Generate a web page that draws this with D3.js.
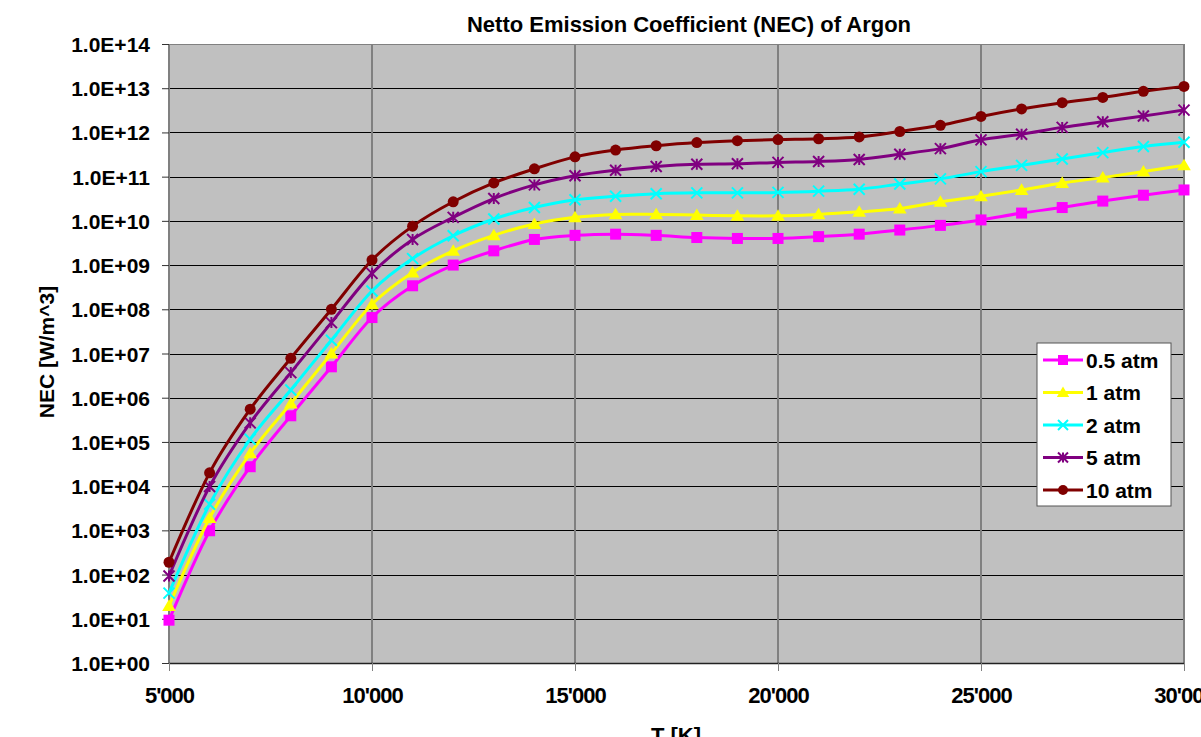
<!DOCTYPE html>
<html><head><meta charset="utf-8">
<script src="https://cdn.jsdelivr.net/npm/d3@7"></script>
<style>
html,body{margin:0;padding:0;background:#fff;overflow:hidden}
text{font-family:"Liberation Sans",Arial,sans-serif;font-weight:bold;fill:#000}
</style></head>
<body><svg id="c" width="1201" height="737"></svg>
<script>
const temps = [5000,6000,7000,8000,9000,10000,11000,12000,13000,14000,15000,16000,17000,18000,19000,20000,21000,22000,23000,24000,25000,26000,27000,28000,29000,30000];
const atm05 = [9.3e0,9.8e2,2.75e4,3.9e5,5.0e6,6.5e7,3.4e8,1.0e9,2.1e9,3.8e9,4.7e9,5.0e9,4.7e9,4.2e9,4.0e9,4.0e9,4.4e9,5.0e9,6.2e9,7.9e9,1.05e10,1.5e10,2.0e10,2.8e10,3.8e10,5.0e10];
const atm1 = [1.95e1,1.9e3,5.5e4,7.4e5,1.0e7,1.3e8,6.8e8,2.1e9,4.7e9,8.5e9,1.2e10,1.4e10,1.4e10,1.35e10,1.3e10,1.3e10,1.4e10,1.6e10,1.9e10,2.7e10,3.6e10,5.0e10,7.2e10,9.5e10,1.3e11,1.8e11];
const atm2 = [3.8e1,3.9e3,1.15e5,1.5e6,2.0e7,2.6e8,1.4e9,4.6e9,1.1e10,2.0e10,3.0e10,3.6e10,4.1e10,4.3e10,4.3e10,4.4e10,4.7e10,5.2e10,6.8e10,8.9e10,1.3e11,1.8e11,2.5e11,3.5e11,4.8e11,6.0e11];
const atm5 = [9.3e1,9.8e3,2.7e5,3.7e6,5.0e7,6.5e8,3.8e9,1.2e10,3.2e10,6.5e10,1.05e11,1.4e11,1.7e11,1.9e11,1.95e11,2.1e11,2.2e11,2.45e11,3.2e11,4.3e11,6.8e11,9.1e11,1.3e12,1.75e12,2.35e12,3.2e12];
const atm10 = [1.9e2,2.0e4,5.5e5,7.8e6,1.0e8,1.3e9,7.6e9,2.7e10,7.2e10,1.5e11,2.8e11,4.0e11,5.0e11,5.9e11,6.5e11,6.9e11,7.2e11,7.9e11,1.05e12,1.45e12,2.3e12,3.4e12,4.7e12,6.2e12,8.5e12,1.1e13];
const seriesNames = ["0.5 atm","1 atm","2 atm","5 atm","10 atm"];
const seriesColors = ["#ff00ff","#ffff00","#00ffff","#800080","#800000"];
const seriesMarkers = ["square","triangle","x","star","circle"];
const xTicks = [5000,10000,15000,20000,25000,30000];
const yTicks = [1e0,1e1,1e2,1e3,1e4,1e5,1e6,1e7,1e8,1e9,1e10,1e11,1e12,1e13,1e14];
const titleText = "Netto Emission Coefficient (NEC) of Argon";
const xTitle = "T [K]";
const yTitle = "NEC [W/m^3]";

const seriesValues = [atm05, atm1, atm2, atm5, atm10];
const m = {l:169, t:44, r:1184, b:663};
const svg = d3.select("#c");
const x = d3.scaleLinear().domain([5000,30000]).range([m.l, m.r]);
const y = d3.scaleLog().domain([1e0,1e14]).range([m.b, m.t]);

svg.append("rect").attr("x",m.l).attr("y",m.t).attr("width",m.r-m.l).attr("height",m.b-m.t).attr("fill","#c0c0c0");

// horizontal gridlines
svg.append("g").selectAll("line").data(yTicks).join("line")
  .attr("x1",m.l).attr("x2",m.r).attr("y1",d=>Math.round(y(d))+0.5).attr("y2",d=>Math.round(y(d))+0.5)
  .attr("stroke",(d,i)=> i===yTicks.length-1 ? "#808080" : "#000").attr("stroke-width",1);
// vertical gridlines
svg.append("g").selectAll("line").data(xTicks).join("line")
  .attr("x1",d=>Math.round(x(d))).attr("x2",d=>Math.round(x(d))).attr("y1",m.t).attr("y2",m.b)
  .attr("stroke","#808080").attr("stroke-width",2);
// bottom axis line
svg.append("line").attr("x1",m.l).attr("x2",m.r).attr("y1",m.b+0.5).attr("y2",m.b+0.5).attr("stroke","#222").attr("stroke-width",1.5);

// y axis
const fmt = d => "1.0E+" + String(Math.round(Math.log10(d))).padStart(2,"0");
const ya = svg.append("g").attr("transform",`translate(${m.l},0)`)
  .call(d3.axisLeft(y).tickValues(yTicks).tickFormat(fmt).tickSize(7).tickPadding(12));
ya.select(".domain").remove();
ya.selectAll(".tick line").attr("stroke","#333");
ya.selectAll("text").style("font-size","21px").attr("dy","0.36em");

// x axis
const xa = svg.append("g").attr("transform",`translate(0,${m.b})`)
  .call(d3.axisBottom(x).tickValues(xTicks).tickFormat(d=>String(d/1000)+"'000").tickSize(8).tickPadding(16));
xa.select(".domain").remove();
xa.selectAll(".tick line").attr("stroke","#808080");
xa.selectAll("text").style("font-size","22px").style("letter-spacing","-1px");

// titles
svg.append("text").attr("x",689).attr("y",32).attr("text-anchor","middle").style("font-size","22px").text(titleText);
svg.append("text").attr("x",676).attr("y",743).attr("text-anchor","middle").style("font-size","22px").text(xTitle);
svg.append("text").attr("transform","translate(54,352) rotate(-90)").attr("text-anchor","middle").style("font-size","21px").text(yTitle);

// markers
function drawMarker(g, type, color, size){
  const s = size;
  if(type==="square") g.append("rect").attr("x",-s/2).attr("y",-s/2).attr("width",s).attr("height",s).attr("fill",color);
  else if(type==="triangle") g.append("path").attr("d",`M0,${-s*0.6}L${s*0.62},${s*0.45}L${-s*0.62},${s*0.45}Z`).attr("fill",color);
  else if(type==="circle") g.append("circle").attr("r",s/2).attr("fill",color);
  else if(type==="x") g.append("path").attr("d",`M${-s/2},${-s/2}L${s/2},${s/2}M${-s/2},${s/2}L${s/2},${-s/2}`).attr("stroke",color).attr("stroke-width",2);
  else if(type==="star") g.append("path").attr("d",`M${-s/2},${-s/2}L${s/2},${s/2}M${-s/2},${s/2}L${s/2},${-s/2}M0,${-s/2}L0,${s/2}`).attr("stroke",color).attr("stroke-width",2);
}

const line = d3.line().x(d=>x(d[0])).y(d=>y(d[1])).curve(d3.curveCatmullRom.alpha(0));
seriesValues.forEach((vals,i)=>{
  const pts = temps.map((t,j)=>[t,vals[j]]);
  svg.append("path").datum(pts).attr("d",line).attr("fill","none").attr("stroke",seriesColors[i]).attr("stroke-width",3);
  pts.forEach(p=>{
    const g = svg.append("g").attr("transform",`translate(${x(p[0])},${y(p[1])})`);
    drawMarker(g, seriesMarkers[i], seriesColors[i], 11);
  });
});

// legend
const lg = svg.append("g").attr("transform","translate(1037,343)");
lg.append("rect").attr("width",134).attr("height",163).attr("fill","#fff").attr("stroke","#555").attr("stroke-width",1);
seriesNames.forEach((n,i)=>{
  const cy = 17 + i*32.5;
  lg.append("line").attr("x1",6).attr("x2",46).attr("y1",cy).attr("y2",cy).attr("stroke",seriesColors[i]).attr("stroke-width",3);
  const g = lg.append("g").attr("transform",`translate(26,${cy})`);
  drawMarker(g, seriesMarkers[i], seriesColors[i], 10);
  lg.append("text").attr("x",49).attr("y",cy).attr("dy","0.36em").style("font-size","21px").text(n);
});
</script></body></html>
